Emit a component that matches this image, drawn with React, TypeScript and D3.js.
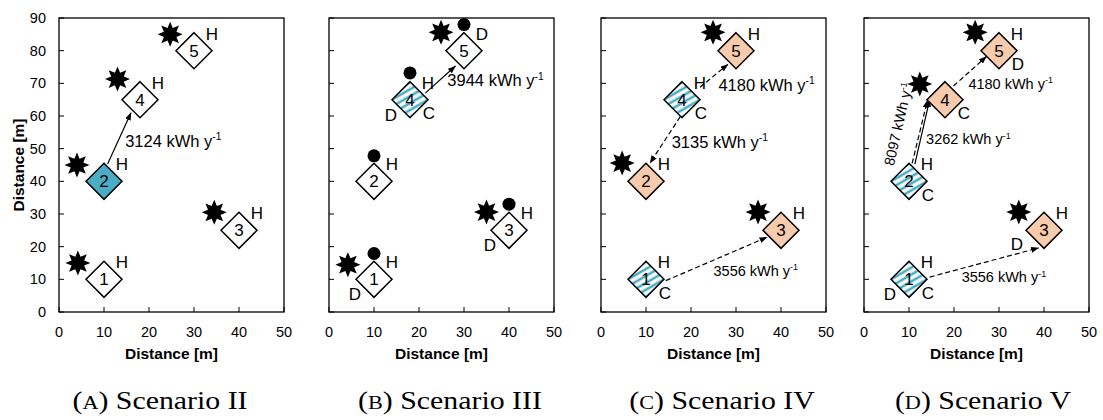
import * as d3 from 'd3'

// node layout (same in every scenario)
const NODE_IDS = [1, 2, 3, 4, 5]
const NODE_X = [10, 10, 40, 18, 30]
const NODE_Y = [10, 40, 25, 65, 80]
const X_TICKS = [0, 10, 20, 30, 40, 50]
const Y_TICKS = [0, 10, 20, 30, 40, 50, 60, 70, 80, 90]

type Pt = [number, number]
type Lbl = [number, string, string] // node, letter, position
type Arrow = { from: Pt; to: Pt; dashed: boolean }
type Note = { x: number; y: number; value: string; small?: boolean; rotate?: number }

// (A) Scenario II
const fillsA = ['white', 'teal', 'white', 'white', 'white']
const starsA: Pt[] = [[4.2, 15], [4, 45], [34.5, 30.5], [13, 71.3], [24.7, 85]]
const dotsA: Pt[] = []
const labelsA: Lbl[] = [[1, 'H', 'ur'], [2, 'H', 'ur'], [3, 'H', 'ur'], [4, 'H', 'ur'], [5, 'H', 'ur']]
const arrowsA: Arrow[] = [{ from: [10.8, 45.3], to: [16, 61], dashed: false }]
const notesA: Note[] = [{ x: 14.7, y: 50.6, value: '3124' }]

// (B) Scenario III
const fillsB = ['white', 'white', 'white', 'hatch', 'white']
const starsB: Pt[] = [[4.2, 14.5], [35, 30.6], [24.9, 85.6]]
const dotsB: Pt[] = [[10, 17.9], [10, 47.8], [40, 33], [18, 73.2], [30, 88]]
const labelsB: Lbl[] = [
  [1, 'H', 'ur'], [1, 'D', 'll'], [2, 'H', 'ur'], [3, 'H', 'ur'], [3, 'D', 'll'],
  [4, 'H', 'ur'], [4, 'D', 'll'], [4, 'C', 'lr'], [5, 'D', 'ur'],
]
const arrowsB: Arrow[] = [{ from: [21.4, 67], to: [28.1, 75.3], dashed: false }]
const notesB: Note[] = [{ x: 26.3, y: 69.2, value: '3944' }]

// (C) Scenario IV
const fillsC = ['hatch', 'peach', 'peach', 'hatch', 'peach']
const starsC: Pt[] = [[4.7, 45.6], [34.9, 30.6], [24.9, 85.6]]
const dotsC: Pt[] = []
const labelsC: Lbl[] = [
  [1, 'H', 'ur'], [1, 'C', 'lr'], [2, 'H', 'ur'], [3, 'H', 'ur'],
  [4, 'H', 'ur'], [4, 'C', 'lr'], [5, 'H', 'ur'],
]
const arrowsC: Arrow[] = [
  { from: [22, 68.8], to: [28.2, 75.8], dashed: true },
  { from: [17.6, 59.8], to: [10.9, 45.6], dashed: true },
  { from: [14.4, 9.6], to: [36.9, 22.9], dashed: true },
]
const notesC: Note[] = [
  { x: 26.1, y: 67.8, value: '4180' },
  { x: 15.7, y: 50.3, value: '3135' },
  { x: 25, y: 11.1, value: '3556', small: true },
]

// (D) Scenario V
const fillsD = ['hatch', 'hatch', 'peach', 'peach', 'peach']
const starsD: Pt[] = [[12.4, 69.8], [34.4, 30.6], [24.7, 85.6]]
const dotsD: Pt[] = []
const labelsD: Lbl[] = [
  [1, 'H', 'ur'], [1, 'D', 'll'], [1, 'C', 'lr'], [2, 'H', 'ur'], [2, 'C', 'lr'],
  [3, 'H', 'ur'], [3, 'D', 'l'], [4, 'C', 'lr'], [5, 'H', 'ur'], [5, 'D', 'lr'],
]
const arrowsD: Arrow[] = [
  { from: [11.3, 45.3], to: [14.6, 65.1], dashed: false },
  { from: [10.7, 45.5], to: [14.1, 64.8], dashed: true },
  { from: [19.9, 69.2], to: [27.2, 78.2], dashed: true },
  { from: [14.6, 10.7], to: [38.8, 19.6], dashed: true },
]
const notesD: Note[] = [
  { x: 23.2, y: 68.4, value: '4180', small: true },
  { x: 13.8, y: 51.4, value: '3262', small: true },
  { x: 21.7, y: 9.1, value: '3556', small: true },
  { x: 7.6, y: 57.5, value: '8097', small: true, rotate: -77 },
]

const PANELS = [
  { key: 'A', cap: 'Scenario II', fills: fillsA, stars: starsA, dots: dotsA, labels: labelsA, arrows: arrowsA, notes: notesA },
  { key: 'B', cap: 'Scenario III', fills: fillsB, stars: starsB, dots: dotsB, labels: labelsB, arrows: arrowsB, notes: notesB },
  { key: 'C', cap: 'Scenario IV', fills: fillsC, stars: starsC, dots: dotsC, labels: labelsC, arrows: arrowsC, notes: notesC },
  { key: 'D', cap: 'Scenario V', fills: fillsD, stars: starsD, dots: dotsD, labels: labelsD, arrows: arrowsD, notes: notesD },
]

// layout
const W = 1103
const H = 420
const PLOT_LEFT = [59, 329, 601, 864]
const PLOT_W = 225
const TOP = 18
const BOTTOM = 312
const CAP_X = [160, 450, 722, 983]
const HALF = 18
const TEAL = '#4bacc6'
const PEACH = '#f8cbad'
const SANS = '"Liberation Sans", Arial, sans-serif'
const OFFSETS: Record<string, Pt> = { ur: [18, -17], ll: [-19, 15], lr: [19, 13.5], l: [-27, 14] }

const starPath = d3.lineRadial<number>()
  .angle((_, i) => (i * Math.PI) / 8)
  .radius((_, i) => (i % 2 ? 6.8 : 12.5))
  .curve(d3.curveLinearClosed)(d3.range(16)) ?? ''

const diamond = `M0,${-HALF}L${HALF},0L0,${HALF}L${-HALF},0Z`

function Panel({ p, idx }: { p: typeof PANELS[number]; idx: number }) {
  const left = PLOT_LEFT[idx]
  const x = d3.scaleLinear().domain([0, 50]).range([left, left + PLOT_W])
  const y = d3.scaleLinear().domain([0, 90]).range([BOTTOM, TOP])
  const fillOf = (f: string) => (f === 'teal' ? TEAL : f === 'peach' ? PEACH : f === 'hatch' ? 'url(#hatch)' : 'white')

  return (
    <g>
      {/* frame */}
      <rect x={x(0)} y={y(90)} width={PLOT_W} height={BOTTOM - TOP} fill="white" stroke="#000" strokeWidth={1.3} />
      {X_TICKS.map(t => (
        <g key={'x' + t}>
          <line x1={x(t)} x2={x(t)} y1={BOTTOM} y2={BOTTOM - 5} stroke="#000" strokeWidth={1} />
          <text x={x(t)} y={337} textAnchor="middle" fontFamily={SANS} fontSize={14.5}>{t}</text>
        </g>
      ))}
      {Y_TICKS.map(t => (
        <g key={'y' + t}>
          <line x1={left} x2={left + 5} y1={y(t)} y2={y(t)} stroke="#000" strokeWidth={1} />
          {idx === 0 && (
            <text x={left - 13} y={y(t)} dy="0.35em" textAnchor="end" fontFamily={SANS} fontSize={14.5}>{t}</text>
          )}
        </g>
      ))}
      <text x={left + PLOT_W / 2} y={359} textAnchor="middle" fontFamily={SANS} fontWeight="bold" fontSize={15.5}>Distance [m]</text>
      {idx === 0 && (
        <text transform={`translate(19,${(TOP + BOTTOM) / 2}) rotate(-90)`} dy="0.35em" textAnchor="middle"
          fontFamily={SANS} fontWeight="bold" fontSize={15.5}>Distance [m]</text>
      )}

      {/* arrows */}
      {p.arrows.map((a, i) => (
        <line key={'a' + i} x1={x(a.from[0])} y1={y(a.from[1])} x2={x(a.to[0])} y2={y(a.to[1])}
          stroke="#000" strokeWidth={1.2} strokeDasharray={a.dashed ? '5 3' : undefined} markerEnd="url(#head)" />
      ))}

      {/* stars and dots */}
      {p.stars.map((s, i) => (
        <path key={'s' + i} d={starPath} transform={`translate(${x(s[0])},${y(s[1])})`} fill="#000" />
      ))}
      {p.dots.map((d, i) => (
        <circle key={'d' + i} cx={x(d[0])} cy={y(d[1])} r={6.5} fill="#000" />
      ))}

      {/* nodes */}
      {NODE_IDS.map((id, i) => (
        <g key={'n' + id} transform={`translate(${x(NODE_X[i])},${y(NODE_Y[i])})`}>
          <path d={diamond} fill={fillOf(p.fills[i])} stroke="#000" strokeWidth={1.5} />
          <text dy="0.36em" textAnchor="middle" fontFamily={SANS} fontSize={17}>{id}</text>
        </g>
      ))}

      {/* node letters */}
      {p.labels.map(([n, letter, pos], i) => {
        const o = OFFSETS[pos]
        return (
          <text key={'l' + i} x={x(NODE_X[n - 1]) + o[0]} y={y(NODE_Y[n - 1]) + o[1]} dy="0.36em"
            textAnchor="middle" fontFamily={SANS} fontSize={17}>{letter}</text>
        )
      })}

      {/* energy notes */}
      {p.notes.map((nt, i) => {
        const fs = nt.small ? 14.5 : 16.5
        const body = (
          <>
            {nt.value} kWh y<tspan dy={-fs * 0.38} fontSize={fs * 0.62}>-1</tspan>
          </>
        )
        return nt.rotate !== undefined ? (
          <text key={'t' + i} transform={`translate(${x(nt.x)},${y(nt.y)}) rotate(${nt.rotate})`} dy="0.35em"
            textAnchor="middle" fontFamily={SANS} fontSize={fs}>{body}</text>
        ) : (
          <text key={'t' + i} x={x(nt.x)} y={y(nt.y)} fontFamily={SANS} fontSize={fs}>{body}</text>
        )
      })}

      {/* caption */}
      <text transform={`translate(${CAP_X[idx]},409) scale(1.17,1)`} textAnchor="middle"
        fontFamily='"Liberation Serif", serif' fontSize={25.5}>
        (<tspan fontSize={19}>{p.key}</tspan>) {p.cap}
      </text>
    </g>
  )
}

export default function App() {
  return (
    <svg width={W} height={H} style={{ position: 'absolute', left: 0, top: 0, background: 'white' }}>
      <defs>
        <pattern id="hatch" patternUnits="userSpaceOnUse" width={6} height={6} patternTransform="rotate(-30)">
          <rect width={6} height={6} fill="white" />
          <rect width={6} height={2.6} y={1.7} fill={TEAL} />
        </pattern>
        <marker id="head" markerUnits="userSpaceOnUse" markerWidth={8} markerHeight={6} refX={7.5} refY={3} orient="auto">
          <path d="M0,0L8,3L0,6Z" fill="#000" />
        </marker>
      </defs>
      <rect width={W} height={H} fill="white" />
      {PANELS.map((p, i) => <Panel key={p.key} p={p} idx={i} />)}
    </svg>
  )
}
